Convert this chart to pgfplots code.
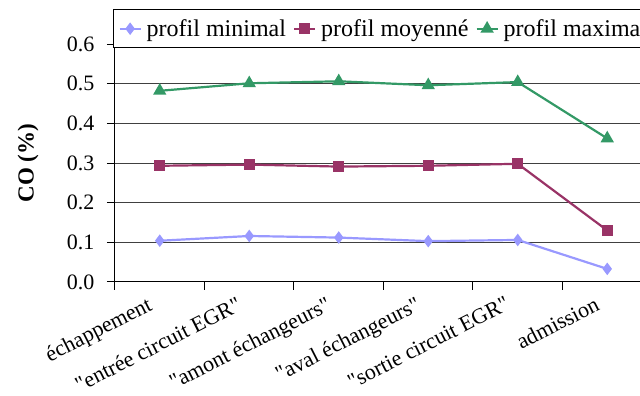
\documentclass[border=0pt]{standalone}
\usepackage{pgfplots}
\pgfplotsset{compat=1.18}
\usepackage{fontspec}
\setmainfont{Liberation Serif}
\definecolor{cmin}{HTML}{9999FF}
\definecolor{cmoy}{HTML}{993366}
\definecolor{cmax}{HTML}{339966}
\newcommand{\q}{\textquotedbl}
\begin{document}
\begin{tikzpicture}[x=1pt,y=1pt]
\useasboundingbox (0,0) rectangle (640,396);
\clip (0,0) rectangle (640,396);
\begin{axis}[
 at={(115pt,114pt)}, anchor=south west,
 width=537pt, height=238pt, scale only axis,
 xmin=0, xmax=6, ymin=0, ymax=0.6,
 axis x line*=bottom, axis y line*=left,
 axis line style={-, black, line width=1pt},
 tick align=outside,
 xtick={0,1,2,3,4,5,6}, xticklabels={},
 major tick length=8pt,
 tick style={black, line width=1pt},
 extra x ticks={0.5,1.5,2.5,3.5,4.5,5.5},
 extra x tick labels={échappement,\q entrée circuit EGR\q,\q amont échangeurs\q,\q aval échangeurs\q,\q sortie circuit EGR\q,admission},
 extra x tick style={major tick length=0pt, grid=none,
   xticklabel style={rotate=27, anchor=north east, inner sep=1pt, yshift=-5pt, xshift=-17pt, font=\fontsize{22}{26}\selectfont}},
 ytick={0,0.1,0.2,0.3,0.4,0.5,0.6},
 yticklabel style={/tikz/xshift=-9pt, /pgf/number format/fixed, /pgf/number format/fixed zerofill, /pgf/number format/precision=1, /pgf/number format/assume math mode=true},
 ymajorgrids, major grid style={black!75, line width=1pt},
 ticklabel style={font=\fontsize{22}{26}\selectfont},
 ylabel={\textbf{CO (\%)}},
 ylabel style={at={(axis description cs:-0.162,0.5)}, anchor=center, font=\fontsize{23}{27}\selectfont},
 legend columns=3,
 legend style={at={(axis description cs:-0.0037,1.147)}, anchor=north west,
   draw=black, line width=1pt, font=\fontsize{24}{28}\selectfont,
   inner xsep=5pt, inner ysep=8pt,
   /tikz/every odd column/.append style={column sep=3pt},
   /tikz/every even column/.append style={column sep=5pt}},
 legend image code/.code={\draw[mark repeat=2,mark phase=2] plot coordinates {(0pt,0pt)(10.5pt,0pt)(21pt,0pt)};},
 every axis plot/.append style={line width=2.2pt},
]
\addplot[cmin, mark=diamond*, mark size=4.5pt, mark options={solid}] coordinates {
 (0.5,0.104) (1.5,0.116) (2.5,0.112) (3.5,0.103) (4.5,0.106) (5.5,0.033)};
\addlegendentry{profil minimal}
\addplot[cmoy, mark=square*, mark size=4.5pt] coordinates {
 (0.5,0.293) (1.5,0.296) (2.5,0.291) (3.5,0.293) (4.5,0.298) (5.5,0.130)};
\addlegendentry{profil moyenné}
\addplot[cmax, mark=triangle*, mark size=5.5pt] coordinates {
 (0.5,0.482) (1.5,0.501) (2.5,0.506) (3.5,0.496) (4.5,0.504) (5.5,0.362)};
\addlegendentry{profil maximal}
\end{axis}
\end{tikzpicture}
\end{document}
